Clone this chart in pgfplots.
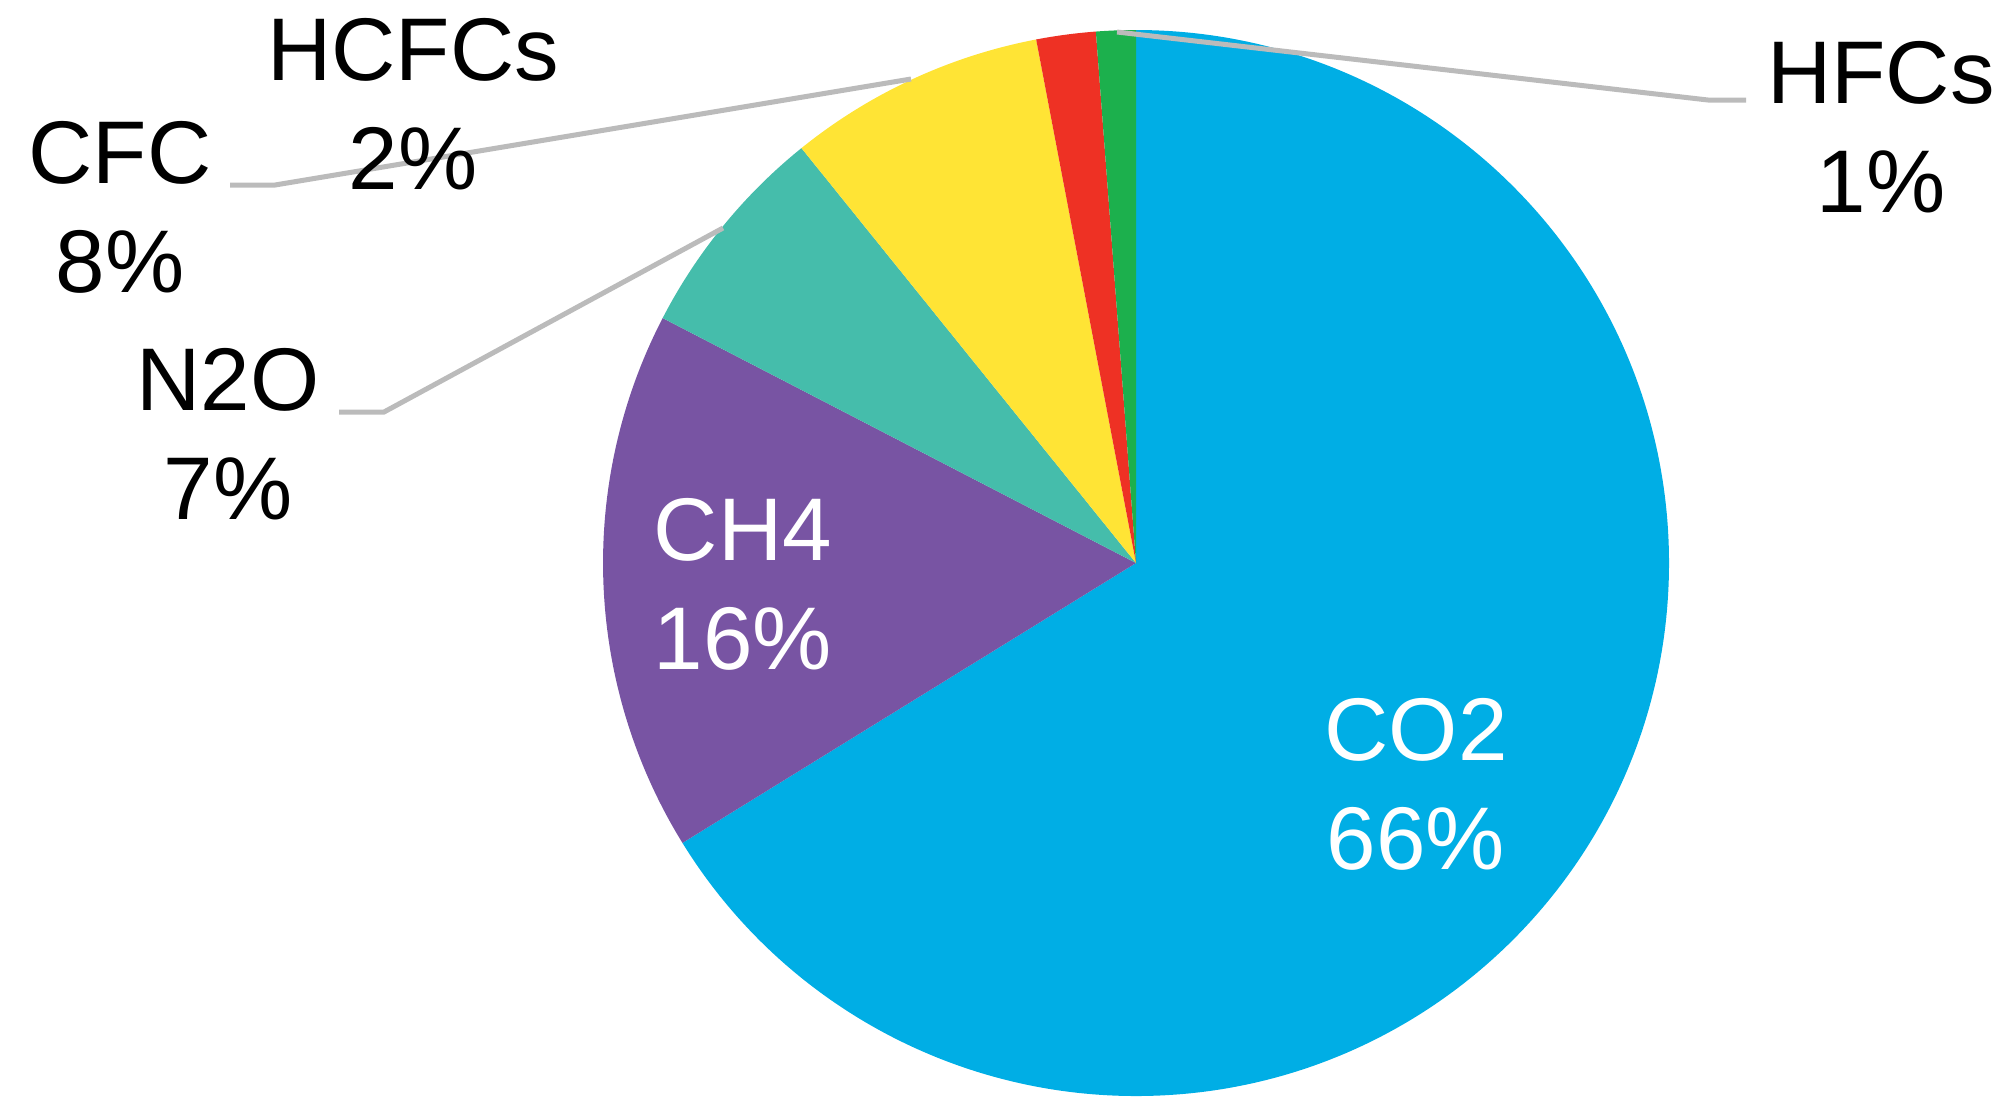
\documentclass[border=0pt]{standalone}
\usepackage{pgfplots}
\usepackage{pgfplotstable}
\pgfplotsset{compat=1.18}
\usepackage{fontspec}
\setmainfont{Liberation Sans}
\definecolor{cco2}{HTML}{00AEE5}
\definecolor{cch4}{HTML}{7854A3}
\definecolor{cn2o}{HTML}{45BDAB}
\definecolor{ccfc}{HTML}{FFE435}
\definecolor{chcfc}{HTML}{EE3124}
\definecolor{chfc}{HTML}{1CB04D}
\definecolor{leader}{HTML}{BBBBBB}
\pgfplotstableread{
name value col
CO2 66.2 cco2
CH4 16.4 cch4
N2O 6.6 cn2o
CFC 7.8 ccfc
HCFCs 1.8 chcfc
HFCs 1.2 chfc
}\piedata
\begin{document}
\begin{tikzpicture}
\begin{axis}[x=0.3pt, y=0.3pt, xmin=0, xmax=2006, ymin=0, ymax=1101,
  y dir=reverse, hide axis, clip=false, scale only axis]
\pgfplotsextra{
  \path (axis cs:0,0) rectangle (axis cs:2006,1101);
  \gdef\startang{90}
  \foreach \i in {0,...,5}{
    \pgfplotstablegetelem{\i}{value}\of\piedata \let\sliceval\pgfplotsretval
    \pgfplotstablegetelem{\i}{col}\of\piedata \let\slicecol\pgfplotsretval
    \pgfmathsetmacro\endang{\startang - 3.6*\sliceval}
    \fill[fill=\slicecol] (axis cs:1136,563) -- ++(\startang:159.9pt)
      arc[start angle=\startang, end angle=\endang, radius=159.9pt] -- cycle;
    \global\let\startang\endang
  }
  % leader lines
  \draw[leader, line width=1.5pt] (axis cs:230,185) -- (axis cs:275,185) -- (axis cs:911,79);
  \draw[leader, line width=1.5pt] (axis cs:339,412) -- (axis cs:384,412) -- (axis cs:723,228);
  \draw[leader, line width=1.5pt] (axis cs:1746,100) -- (axis cs:1708,100) -- (axis cs:1117,32);
  \tikzset{lab/.style={align=center, inner sep=0pt, font=\fontsize{26.7}{32.7}\selectfont}}
  \node[lab] at (axis cs:413,104) {HCFCs\\2\%};
  \node[lab] at (axis cs:120,207) {CFC\\8\%};
  \node[lab] at (axis cs:228,434) {N2O\\7\%};
  \node[lab, text=white] at (axis cs:743,584) {CH4\\16\%};
  \node[lab, text=white] at (axis cs:1416,784) {CO2\\66\%};
  \node[lab] at (axis cs:1881,127) {HFCs\\1\%};
}
\end{axis}
\end{tikzpicture}
\end{document}
